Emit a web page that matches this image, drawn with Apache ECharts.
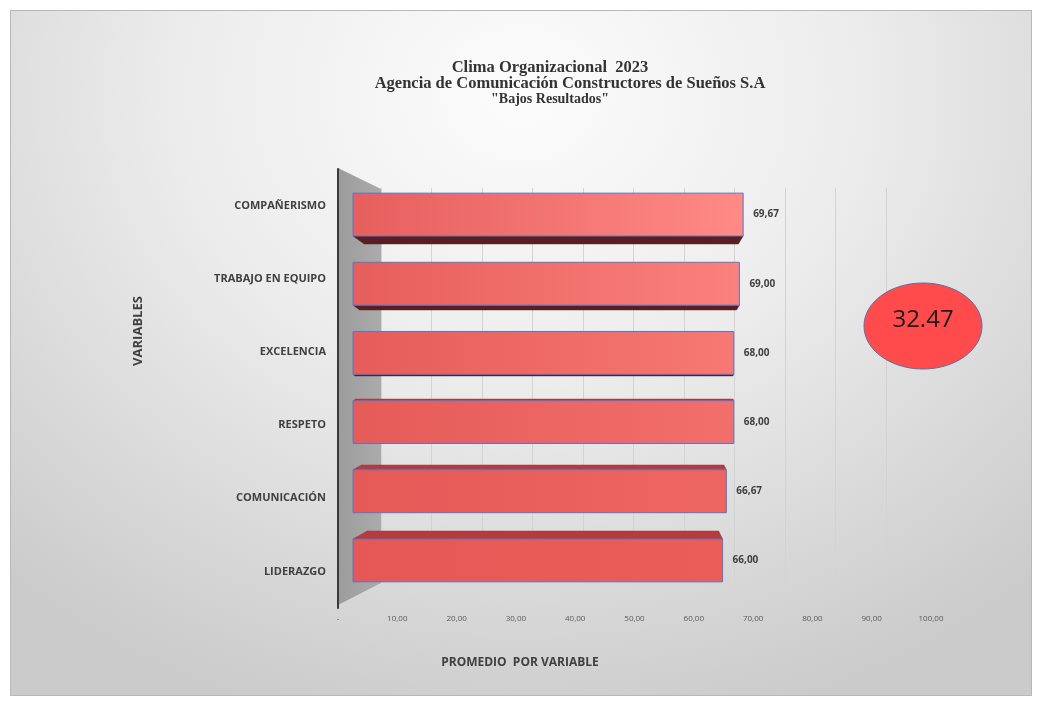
<!DOCTYPE html>
<html>
<head>
<meta charset="utf-8">
<script src="https://cdn.jsdelivr.net/npm/echarts@6/dist/echarts.min.js"></script>
<style>
  html, body { margin: 0; padding: 0; background: #fff; }
  #bg {
    position: absolute; left: 10px; top: 10px; width: 1020px; height: 684px;
    border: 1px solid #b8b8b8;
    background: radial-gradient(ellipse 75% 95% at 50% 12%, #fcfcfc 0%, #ececec 45%, #dadada 75%, #cbcbcb 100%);
  }
  #chart { position: absolute; left: 0; top: 0; width: 1042px; height: 706px; }
</style>
</head>
<body>
<div id="bg"></div>
<div id="chart"></div>
<script>
// datos del grafico
var categorias = ['COMPAÑERISMO', 'TRABAJO EN EQUIPO', 'EXCELENCIA', 'RESPETO', 'COMUNICACIÓN', 'LIDERAZGO'];
var promedios = [69.67, 69.00, 68.00, 68.00, 66.67, 66.00];
var etiquetasX = ['-', '10,00', '20,00', '30,00', '40,00', '50,00', '60,00', '70,00', '80,00', '90,00', '100,00'];
var promedioGeneral = 32.47;

var chart = echarts.init(document.getElementById('chart'), null, { renderer: 'canvas' });

function fmt(v) {
  return v.toFixed(2).replace('.', ',');
}

// mezcla de dos colores hex
function mix(a, b, t) {
  var pa = [1, 3, 5].map(function (i) { return parseInt(a.substr(i, 2), 16); });
  var pb = [1, 3, 5].map(function (i) { return parseInt(b.substr(i, 2), 16); });
  return 'rgb(' + pa.map(function (c, i) { return Math.round(c + (pb[i] - c) * t); }).join(',') + ')';
}

function renderBar(params, api) {
  var idx = api.value(1);
  var v = api.value(0);
  var s = api.coord([0, idx]);
  var e = api.coord([v, idx]);
  var h = api.size([0, 1])[1] * 0.62;
  var x0 = s[0], x1 = e[0], cy = s[1];
  var top = cy - h / 2, bot = cy + h / 2;
  var cs = params.coordSys;
  var d = (cs.y + cs.height / 2 - cy) * 0.046;
  var t = idx / (categorias.length - 1);
  var children = [];

  if (d > 0.5) {
    children.push({
      type: 'polygon',
      shape: { points: [[x0, bot], [x1, bot], [x1 - d * 0.6, bot + d], [x0 + d * 1.4, bot + d]] },
      style: { fill: '#5a1e22', stroke: '#4a2a3a', lineWidth: 0.5 }
    });
  } else if (d < -0.5) {
    var a = -d;
    children.push({
      type: 'polygon',
      shape: { points: [[x0, top], [x1, top], [x1 - a * 0.5, top - a], [x0 + a * 1.8, top - a]] },
      style: { fill: '#b43c3e', stroke: '#8a3a4a', lineWidth: 0.5 }
    });
  }

  children.push({
    type: 'rect',
    shape: { x: x0, y: top, width: x1 - x0, height: h },
    style: {
      fill: new echarts.graphic.LinearGradient(0, 0, 1, 0, [
        { offset: 0, color: mix('#e65f5d', '#e55855', t) },
        { offset: 1, color: mix('#ff8a86', '#ea5d59', t) }
      ]),
      stroke: '#5876c4',
      lineWidth: 1
    }
  });

  children.push({
    type: 'text',
    style: {
      x: x1 + 10,
      y: cy,
      text: fmt(v),
      fill: '#404040',
      font: 'bold 10px "Open Sans"',
      verticalAlign: 'middle',
      align: 'left'
    }
  });

  return { type: 'group', children: children };
}

var option = {
  backgroundColor: 'transparent',
  animation: false,
  grid: [
    // plano frontal: etiquetas de ejes
    { left: 338, top: 169, width: 593, height: 439 },
    // pared del fondo: lineas de division
    { left: 381, top: 188, width: 505, height: 395 },
    // barras
    { left: 353, top: 180, width: 560, height: 415 }
  ],
  xAxis: [
    {
      gridIndex: 0, type: 'value', min: 0, max: 100, interval: 10,
      axisLine: { show: false }, axisTick: { show: false }, splitLine: { show: false },
      axisLabel: {
        margin: 7, fontSize: 8, color: '#595959', fontFamily: 'Open Sans',
        formatter: function (v) { return etiquetasX[Math.round(v / 10)]; }
      }
    },
    {
      gridIndex: 1, type: 'value', min: 0, max: 100, interval: 10,
      axisLine: { show: false }, axisTick: { show: false }, axisLabel: { show: false },
      splitLine: { show: true, lineStyle: { color: '#d3d3d3', width: 1 } }
    },
    {
      gridIndex: 2, type: 'value', min: 0, max: 100, show: false
    }
  ],
  yAxis: [
    {
      gridIndex: 0, type: 'category', data: categorias, inverse: true,
      axisLine: { show: true, lineStyle: { color: '#3a3a3a', width: 2 } },
      axisTick: { show: false },
      axisLabel: { margin: 12, fontSize: 11, fontWeight: 'bold', color: '#404040', fontFamily: 'Open Sans' }
    },
    {
      gridIndex: 1, type: 'category', data: categorias, inverse: true, show: false
    },
    {
      gridIndex: 2, type: 'category', data: categorias, inverse: true, show: false
    }
  ],
  graphic: [
    // pared lateral gris
    {
      type: 'polygon', z: -10,
      shape: { points: [[338, 168], [381, 189], [381, 583], [338, 605]] },
      style: {
        fill: new echarts.graphic.LinearGradient(0, 0, 1, 0, [
          { offset: 0, color: '#9c9c9c' },
          { offset: 1, color: '#ababab' }
        ])
      }
    },
    {
      type: 'text', x: 550, y: 68, z: 100,
      style: { text: 'Clima Organizacional  2023', font: 'bold 16.5px "Liberation Serif"', fill: '#333', align: 'center', verticalAlign: 'middle' }
    },
    {
      type: 'text', x: 570, y: 84, z: 100,
      style: { text: 'Agencia de Comunicación Constructores de Sueños S.A', font: 'bold 16.5px "Liberation Serif"', fill: '#333', align: 'center', verticalAlign: 'middle' }
    },
    {
      type: 'text', x: 550, y: 99, z: 100,
      style: { text: '"Bajos Resultados"', font: 'bold 14px "Liberation Serif"', fill: '#333', align: 'center', verticalAlign: 'middle' }
    },
    {
      type: 'text', x: 520, y: 663, z: 100,
      style: { text: 'PROMEDIO  POR VARIABLE', font: 'bold 12px "Open Sans"', fill: '#404040', align: 'center', verticalAlign: 'middle' }
    },
    {
      type: 'text', x: 138, y: 331, rotation: Math.PI / 2, z: 100,
      style: { text: 'VARIABLES', font: 'bold 13px "Open Sans"', fill: '#404040', align: 'center', verticalAlign: 'middle' }
    },
    {
      type: 'ellipse', z: 100,
      shape: { cx: 923, cy: 326, rx: 59, ry: 43 },
      style: { fill: '#ff4b4b', stroke: '#5a6fa0', lineWidth: 1 }
    },
    {
      type: 'text', x: 923, y: 320, z: 101,
      style: { text: promedioGeneral.toFixed(2), font: '24px "Open Sans"', fill: '#1a1a1a', align: 'center', verticalAlign: 'middle' }
    }
  ],
  series: [
    {
      type: 'custom',
      xAxisIndex: 2,
      yAxisIndex: 2,
      renderItem: renderBar,
      encode: { x: 0, y: 1 },
      data: promedios.map(function (v, i) { return [v, i]; }),
      z: 5
    }
  ]
};

chart.setOption(option);
</script>
</body>
</html>
